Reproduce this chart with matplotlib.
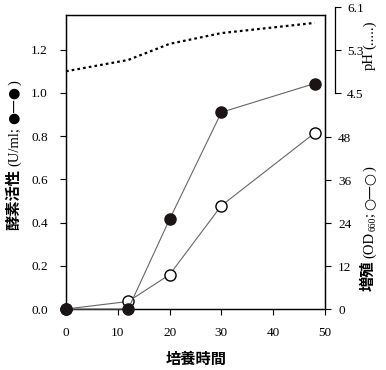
import matplotlib
matplotlib.use('Agg')
from matplotlib import pyplot as plt

# podaci procitani sa slike
vreme = [0, 12, 20, 30, 48]
enzim = [0.0, 0.0, 0.415, 0.91, 1.043]
rast = [0.0, 2.1, 9.6, 28.9, 49.2]
ph = [4.91, 5.12, 5.42, 5.62, 5.81]

x_ticks = [0, 10, 20, 30, 40, 50]
enzim_ticks = [0.0, 0.2, 0.4, 0.6, 0.8, 1.0, 1.2]
rast_ticks = [0, 12, 24, 36, 48]
ph_ticks = [4.5, 5.3, 6.1]

serif = 'Liberation Serif'
cjk = 'Noto Sans CJK JP'
W, H = 386, 370

fig = plt.figure(figsize=(W / 100, H / 100), dpi=100)
ax = fig.add_axes([66 / W, (H - 309) / H, (325 - 66) / W, (309 - 15) / H])
ax2 = ax.twinx()

ax.set_xlim(0, 50)
ax.set_ylim(0, 1.36)
ax2.set_ylim(0, 82.2)

ax2.plot(vreme, rast, '-', color='#666666', lw=0.8, marker='o', ms=8,
         mfc='white', mec='black', mew=1.0, clip_on=False, zorder=3)
ax.plot(vreme, enzim, '-', color='#666666', lw=0.8, marker='o', ms=8,
        mfc='#1a1414', mec='#1a1414', clip_on=False, zorder=4)
ax.set_zorder(ax2.get_zorder() + 1)
ax.patch.set_visible(False)

ax.set_xticks(x_ticks)
ax.set_yticks(enzim_ticks)
ax.set_yticklabels(['%.1f' % v for v in enzim_ticks])
ax2.set_yticks(rast_ticks)
for a in (ax, ax2):
    a.tick_params(direction='out', length=4, width=0.8, labelsize=9.5, pad=9)
    for lab in a.get_xticklabels() + a.get_yticklabels():
        lab.set_fontfamily(serif)
    for s in a.spines.values():
        s.set_linewidth(0.9)
ax2.tick_params(axis='y', pad=5.5)

# pH osa, iznad i desno
axp = fig.add_axes([66 / W, (H - 93.3) / H, (325 - 66) / W, 86 / H])
axp.set_xlim(0, 50)
axp.set_ylim(4.5, 6.1)
axp.patch.set_visible(False)
for k in ('top', 'left', 'bottom'):
    axp.spines[k].set_visible(False)
axp.spines['right'].set_position(('outward', 7))
axp.spines['right'].set_linewidth(0.9)
axp.yaxis.tick_right()
axp.set_xticks([])
axp.set_yticks(ph_ticks)
axp.tick_params(direction='out', length=4, width=0.8, labelsize=9.5, pad=5)
for lab in axp.get_yticklabels():
    lab.set_fontfamily(serif)
axp.plot(vreme, ph, color='black', lw=1.6, ls=(0, (1.2, 1.4)), clip_on=False)

renderer = fig.canvas.get_renderer()


def uspravni_natpis(x, y, delovi):
    # delovi: (tekst, velicina, familija, debljina, pomak baseline, razmak)
    for s, size, fam, w, dx, gap in delovi:
        t = fig.text((x + dx) / W, y / H, s, rotation=90, rotation_mode='anchor',
                     ha='left', va='baseline', fontsize=size, family=fam,
                     fontweight=w)
        y = t.get_window_extent(renderer).y1 + gap


uspravni_natpis(18, 140, [
    ('酵素活性', 11, cjk, 'bold', 0, 3),
    ('(U/ml;', 10.5, serif, 'normal', 0, 3),
    ('●—●', 10, ['DejaVu Sans'], 'normal', 0, 1),
    (')', 10.5, serif, 'normal', 0, 0),
])
uspravni_natpis(373, 79, [
    ('増殖', 11, cjk, 'bold', 0, 3),
    ('(OD', 10.5, serif, 'normal', 0, 0),
    ('660', 7, serif, 'normal', 3, 0),
    (';', 10.5, serif, 'normal', 0, 3),
    ('○—○', 10, ['DejaVu Sans'], 'normal', 0, 1),
    (')', 10.5, serif, 'normal', 0, 0),
])
uspravni_natpis(373, 300, [
    ('pH', 10.5, serif, 'normal', 0, 3),
    ('(.....)', 10.5, serif, 'normal', 0, 0),
])
fig.text(196 / W, 1 - 359 / H, '培養時間', ha='center', va='center',
         fontsize=11, family=cjk, fontweight='bold')

fig.savefig('out.png', dpi=100)
